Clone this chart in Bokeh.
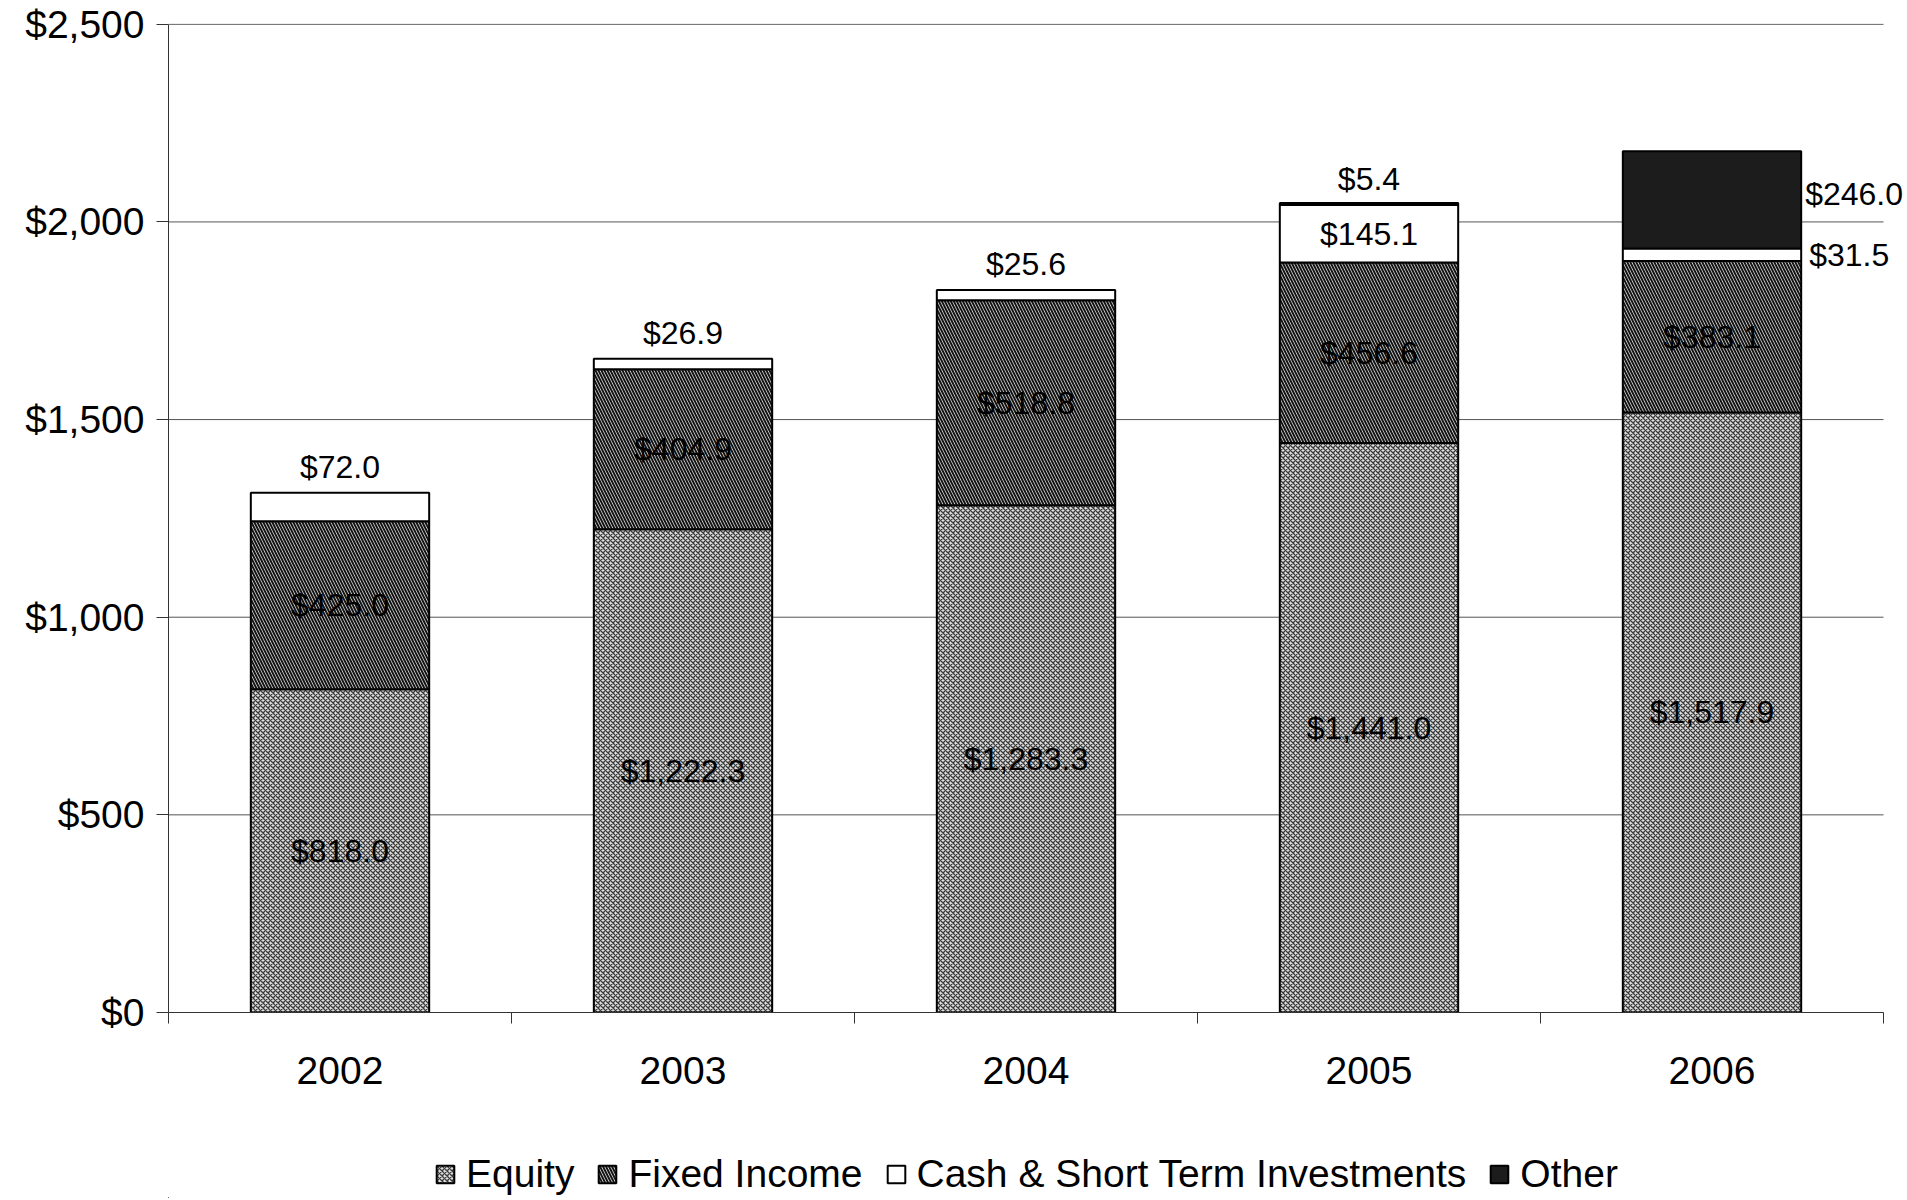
import numpy as np
from bokeh.plotting import figure
from bokeh.layouts import column
from bokeh.models import (ColumnDataSource, Range1d, FixedTicker, NumeralTickFormatter,
                          Legend, LegendItem, Label)
from bokeh.embed import file_html
from bokeh.resources import INLINE

# ---------------- data ----------------
years = ["2002", "2003", "2004", "2005", "2006"]
equity = [818.0, 1222.3, 1283.3, 1441.0, 1517.9]
fixed_income = [425.0, 404.9, 518.8, 456.6, 383.1]
cash = [72.0, 26.9, 25.6, 145.1, 31.5]
other = [0.0, 0.0, 0.0, 5.4, 246.0]
series_names = ["Equity", "Fixed Income", "Cash & Short Term Investments", "Other"]
y_ticks = [0, 500, 1000, 1500, 2000, 2500]

FONT = "Liberation Sans"
n = len(years)
xc = np.arange(n) + 0.5
BAR_W = 0.52

FIG_W, FIG_H = 1905, 1118
LEG_H = 80
LEFT, TOP = 168, 23
PLOT_W = 1715          # pixels spanned by the 5 categories
PLOT_H = 989
Y_MAX = 2502.0
x_end = n * (FIG_W - LEFT) / PLOT_W

p = figure(width=FIG_W, height=FIG_H, x_range=Range1d(0, x_end), y_range=Range1d(0, Y_MAX),
           output_backend="svg", toolbar_location=None,
           min_border_left=LEFT, min_border_right=0, min_border_top=TOP,
           min_border_bottom=FIG_H - TOP - PLOT_H)
p.outline_line_color = None
p.background_fill_color = "white"
p.border_fill_color = "white"

# grid lines (only across the category area)
p.xgrid.visible = False
p.ygrid.visible = False
p.segment(x0=[0] * len(y_ticks), x1=[n] * len(y_ticks), y0=y_ticks, y1=y_ticks,
          line_color="#555555", line_width=1)

vals = [np.array(equity), np.array(fixed_income), np.array(cash), np.array(other)]
bottoms = []
acc = np.zeros(n)
for v in vals:
    bottoms.append(acc.copy())
    acc = acc + v

styles = [
    dict(fill_color="#dedede", hatch_pattern="x", hatch_scale=5, hatch_weight=1.3, hatch_color="#3a3a3a"),
    dict(fill_color="#e8e8e8", hatch_pattern="\\", hatch_scale=6, hatch_weight=2.0, hatch_color="#151515"),
    dict(fill_color="white"),
    dict(fill_color="#1c1c1c"),
]

for v, b, st in zip(vals, bottoms, styles):
    mask = v > 0
    src = ColumnDataSource(dict(x=xc[mask], bottom=b[mask], top=(b + v)[mask]))
    p.vbar(x="x", width=BAR_W, bottom="bottom", top="top", source=src,
           line_color="black", line_width=2, **st)

# ---------------- data labels ----------------
def fmt(v):
    return "${:,.1f}".format(v)

lbl_kw = dict(text_font=FONT, text_font_size="32px", text_color="black")

def add_label(x, y, txt, align="center", baseline="middle", xo=0, yo=0):
    p.add_layout(Label(x=x, y=y, text=txt, text_align=align, text_baseline=baseline,
                       x_offset=xo, y_offset=yo, **lbl_kw))

for i in range(n):
    top_total = equity[i] + fixed_income[i] + cash[i] + other[i]
    add_label(xc[i], equity[i] / 2, fmt(equity[i]))
    add_label(xc[i], equity[i] + fixed_income[i] / 2, fmt(fixed_income[i]))
    cb = equity[i] + fixed_income[i]
    if cash[i] >= 100:
        add_label(xc[i], cb + cash[i] / 2, fmt(cash[i]))
    elif other[i] == 0:
        add_label(xc[i], top_total, fmt(cash[i]), yo=26)
    else:
        add_label(xc[i] + BAR_W / 2, cb + cash[i] / 2, fmt(cash[i]), align="left", xo=8)
    if other[i] > 0:
        ob = cb + cash[i]
        if other[i] < 50:
            add_label(xc[i], top_total, fmt(other[i]), yo=24)
        else:
            add_label(xc[i] + BAR_W / 2, ob + other[i] / 2 + 15, fmt(other[i]), align="left", xo=4)

# ---------------- axes ----------------
yax = p.yaxis[0]
yax.ticker = FixedTicker(ticks=y_ticks)
yax.formatter = NumeralTickFormatter(format="$0,0")
yax.major_label_text_font = FONT
yax.major_label_text_font_size = "39px"
yax.major_label_text_color = "black"
yax.major_tick_out = 12
yax.major_tick_in = 0
yax.minor_tick_line_color = None
yax.axis_line_color = "#333333"
yax.major_tick_line_color = "#333333"
yax.major_label_standoff = 12
yax.bounds = (0, 2500)

xax = p.xaxis[0]
xax.ticker = FixedTicker(ticks=list(xc), minor_ticks=list(range(n + 1)))
xax.major_label_overrides = {float(x): y for x, y in zip(xc, years)}
xax.major_label_text_font = FONT
xax.major_label_text_font_size = "39px"
xax.major_label_text_color = "black"
xax.major_tick_line_color = None
xax.major_tick_out = 0
xax.major_tick_in = 0
xax.minor_tick_out = 11
xax.minor_tick_in = 0
xax.minor_tick_line_color = "#333333"
xax.axis_line_color = "#333333"
xax.major_label_standoff = 33
xax.bounds = (0, n)

# ---------------- legend (separate strip below the chart) ----------------
leg = figure(width=FIG_W, height=LEG_H, x_range=Range1d(0, 1), y_range=Range1d(0, 1),
             output_backend="svg", toolbar_location=None, x_axis_type=None, y_axis_type=None,
             min_border_left=0, min_border_right=0, min_border_top=0, min_border_bottom=0)
leg.outline_line_color = None
leg.xgrid.visible = False
leg.ygrid.visible = False
leg_renderers = []
for st in styles:
    # one far off-screen bar per series, so the legend has a glyph to draw
    r = leg.vbar(x=[-100.0], width=0.1, top=[-100.0], bottom=[-101.0],
                 line_color="black", line_width=2, **st)
    leg_renderers.append(r)
legend = Legend(items=[LegendItem(label=nm, renderers=[r]) for nm, r in zip(series_names, leg_renderers)],
                orientation="horizontal", location=(266, 2),
                label_text_font=FONT, label_text_font_size="39px", label_text_color="black",
                glyph_width=22, glyph_height=22, spacing=22, label_standoff=10,
                padding=0, margin=0, border_line_color=None, background_fill_alpha=0)
leg.add_layout(legend, "center")

layout = column(p, leg, spacing=0)
open("out.html", "w").write(file_html(layout, INLINE))
